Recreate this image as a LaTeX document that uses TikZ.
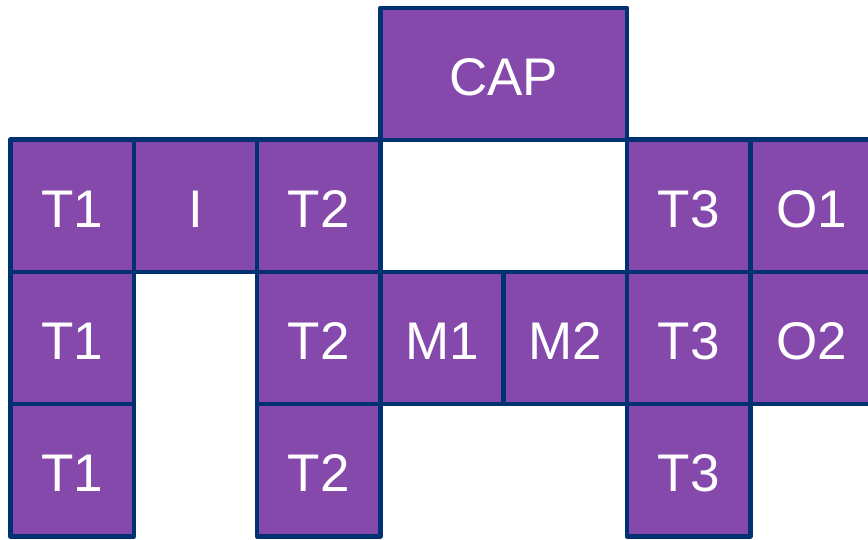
\documentclass[tikz,border=0pt]{standalone}
\usepackage{fontspec}
\setmainfont{Liberation Sans}
\definecolor{purp}{HTML}{8549AB}
\definecolor{navy}{HTML}{003173}
\begin{document}
\begin{tikzpicture}[x=1pt,y=1pt,
  cell/.style={draw=navy, fill=purp, line width=4.5pt, line join=round,
    minimum width=123.3pt, minimum height=132.3pt, inner sep=0pt,
    text height=43pt, text depth=0pt,
    text=white, font=\fontsize{53}{60}\selectfont, anchor=center}]
\useasboundingbox (0,0) rectangle (868,540);
% column centres
\def\ca{72.15}\def\cb{195.45}\def\cc{318.75}\def\cd{442.05}\def\ce{565.35}\def\cf{688.65}\def\cg{811.95}
% row centres (tikz y)
\def\ra{334.35}\def\rb{202.05}\def\rc{69.75}
\node[cell, minimum width=246.6pt] (cap) at (503.7,466) {CAP};
\node[cell] (t1a) at (\ca,\ra) {T1};
\node[cell] (i) at (\cb,\ra) {I};
\node[cell] (t2a) at (\cc,\ra) {T2};
\node[cell] (t3a) at (\cf,\ra) {T3};
\node[cell] (o1) at (\cg,\ra) {O1};
\node[cell] (t1b) at (\ca,\rb) {T1};
\node[cell] (t2b) at (\cc,\rb) {T2};
\node[cell] (m1) at (\cd,\rb) {M1};
\node[cell] (m2) at (\ce,\rb) {M2};
\node[cell] (t3b) at (\cf,\rb) {T3};
\node[cell] (o2) at (\cg,\rb) {O2};
\node[cell] (t1c) at (\ca,\rc) {T1};
\node[cell] (t2c) at (\cc,\rc) {T2};
\node[cell] (t3c) at (\cf,\rc) {T3};
\end{tikzpicture}
\end{document}
